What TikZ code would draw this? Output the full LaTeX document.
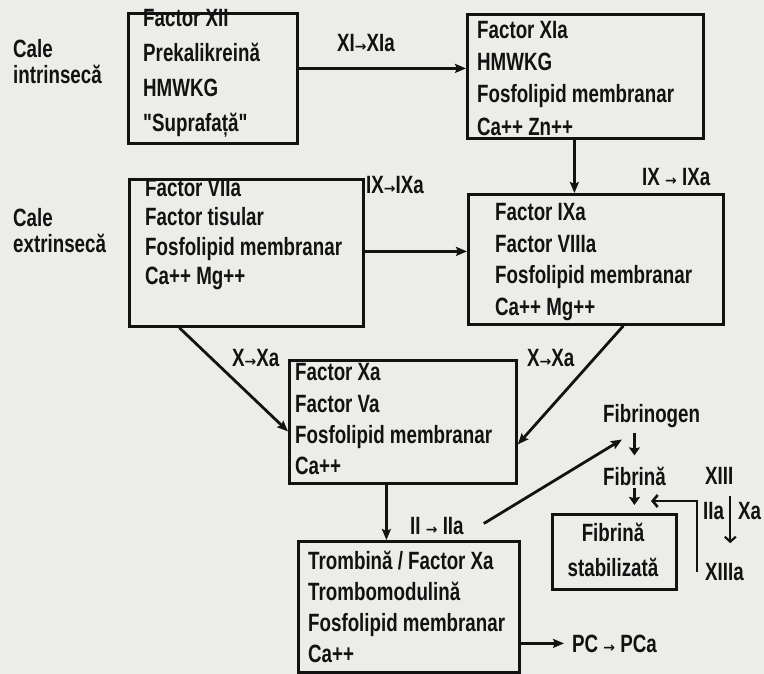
\documentclass[tikz,border=0pt]{standalone}
\usepackage{fontspec}
\newfontfamily\lsf{Liberation Sans}[FakeStretch=0.75]
\newfontfamily\arrf{DejaVu Sans}
\usetikzlibrary{arrows.meta}
\definecolor{paper}{RGB}{236,236,232}
\definecolor{ink}{RGB}{18,18,18}
\newcommand{\sra}{{\arrf\bfseries\fontsize{14}{14}\selectfont →}}
\begin{document}
\begin{tikzpicture}[x=1pt,y=-1pt,
  box/.style={draw=ink, line width=2.8pt, inner sep=0pt, anchor=north west},
  btxt/.style={anchor=north west, inner sep=0pt, align=left, text=ink, font=\lsf\bfseries\fontsize{25}{#1}\selectfont},
  lbl/.style={anchor=base west, inner sep=0pt, text=ink, font=\lsf\bfseries\fontsize{25}{26}\selectfont},
  arr/.style={draw=ink, line width=2.8pt, -{Stealth[length=11pt,width=9pt,inset=2pt]}},
  bigdn/.style={draw=ink, line width=3.2pt, -{Stealth[length=8pt,width=11pt,inset=1pt]}},
  barb/.style={draw=ink, line width=2.6pt, -{Straight Barb[length=5pt,width=12pt,line width=2.6pt]}},
]
\fill[paper] (0,0) rectangle (764,674);
\useasboundingbox (0,0) rectangle (764,674);

% boxes
\node[box, minimum width=169pt, minimum height=130pt] (b1) at (127,12) {};
\node[box, minimum width=236pt, minimum height=124pt] (b2) at (466,13) {};
\node[box, minimum width=234pt, minimum height=147pt] (b3) at (128,178) {};
\node[box, minimum width=255pt, minimum height=130pt] (b4) at (467,193) {};
\node[box, minimum width=227pt, minimum height=123pt] (b5) at (288,359) {};
\node[box, minimum width=221pt, minimum height=131pt] (b6) at (297,540) {};
\node[box, minimum width=124pt, minimum height=75pt] (b7) at (551,513) {};

% box texts
\node[btxt=35] (t1) at (143,9) {Factor XII\\Prekalikreină\\HMWKG\\"Suprafață"};
\node[btxt=32.3] (t2) at (477,21) {Factor XIa\\HMWKG\\Fosfolipid membranar\\Ca++ Zn++};
\node[btxt=29.5] (t3) at (145,179) {Factor VIIa\\Factor tisular\\Fosfolipid membranar\\Ca++ Mg++};
\node[btxt=31.7] (t4) at (495,203) {Factor IXa\\Factor VIIIa\\Fosfolipid membranar\\Ca++ Mg++};
\node[btxt=31.3] (t5) at (295,363.5) {Factor Xa\\Factor Va\\Fosfolipid membranar\\Ca++};
\node[btxt=31] (t6) at (308,551) {Trombină / Factor Xa\\Trombomodulină\\Fosfolipid membranar\\Ca++};
\node[btxt=35, anchor=north, align=center] (t7) at (613,523) {Fibrină\\stabilizată};

% side labels
\node[lbl] (ci1) at (13,58) {Cale};
\node[lbl] (ci2) at (13,84) {intrinsecă};
\node[lbl] (ce1) at (13,226) {Cale};
\node[lbl] (ce2) at (13,253) {extrinsecă};

% connector labels
\node[lbl] (xi) at (337,52) {XI\sra XIa};
\node[lbl] (ixl) at (366,194) {IX\sra IXa};
\node[lbl] (ixr) at (642,186) {IX \sra\ IXa};
\node[lbl] (xl) at (232,366) {X\sra Xa};
\node[lbl] (xr) at (527,366) {X\sra Xa};
\node[lbl] (iia) at (410,534) {II \sra\ IIa};
\node[lbl] (pc) at (572,652) {PC \sra\ PCa};
\node[lbl] (fg) at (603,422) {Fibrinogen};
\node[lbl] (fb) at (603,485) {Fibrină};
\node[lbl] (x13) at (705,484) {XIII};
\node[lbl] (iiab) at (703,519) {IIa};
\node[lbl] (xab) at (738,519) {Xa};
\node[lbl] (x13a) at (705,580) {XIIIa};

% connectors
\draw[arr] ([yshift=10pt]b1.east) -- ([yshift=8pt]b2.west);
\draw[arr] ([xshift=-11pt]b2.south) -- ([xshift=-21.5pt]b4.north);
\draw[arr] ([yshift=1.5pt]b3.east) -- ([yshift=8pt]b4.west);
\draw[arr] ([xshift=-67pt]b3.south) -- ([yshift=-9.5pt]b5.west);
\draw[arr] ([xshift=27.5pt]b4.south) -- ([yshift=-22.5pt]b5.east);
\draw[arr] ([xshift=-16.5pt]b5.south) -- ([xshift=-22.5pt]b6.north);
\draw[arr] (b6.east |- pc.west) -- ([xshift=-8pt]pc.west);
\draw[arr] ([xshift=20pt,yshift=2pt]iia.east) -- ([xshift=19pt,yshift=-12pt]fg.south west);
\draw[bigdn, shorten <=6pt, shorten >=11pt] (fb.north |- fg.south) -- (fb.north);
\draw[bigdn, shorten <=3pt, shorten >=8pt] (fb.south) -- (fb.south |- b7.north);
\coordinate (brktip) at (651,501);
\draw[barb] ([xshift=-8pt]x13a.west) |- (brktip);
\draw[draw=ink, line width=2.2pt, -{Straight Barb[length=5pt,width=11pt,line width=2.2pt]}] ([xshift=11pt,yshift=-12pt]x13.south) -- ++(0,47);
\end{tikzpicture}
\end{document}
